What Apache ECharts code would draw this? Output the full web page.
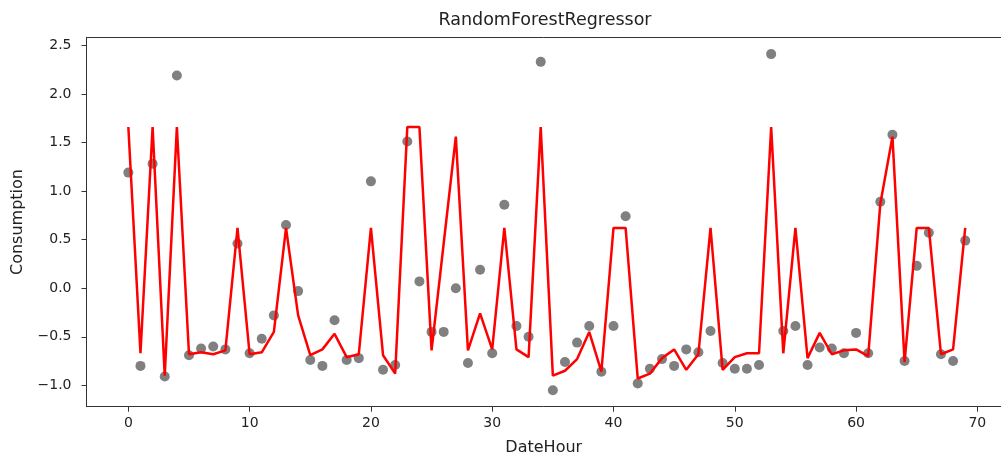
<!DOCTYPE html>
<html>
<head>
<meta charset="utf-8">
<script src="https://cdn.jsdelivr.net/npm/echarts@6/dist/echarts.min.js"></script>
<style>
html,body{margin:0;padding:0;background:#fff;}
#chart{width:1001px;height:461px;}
</style>
</head>
<body>
<div id="chart"></div>
<script>
const chartTitle = 'RandomForestRegressor';
const xName = 'DateHour';
const yName = 'Consumption';

const hours = [0,1,2,3,4,5,6,7,8,9,10,11,12,13,14,15,16,17,18,19,20,21,22,23,24,25,26,27,28,29,30,31,32,33,34,35,36,37,38,39,40,41,42,43,44,45,46,47,48,49,50,51,52,53,54,55,56,57,58,59,60,61,62,63,64,65,66,67,68,69];

const actual = [1.19,-0.80,1.28,-0.91,2.19,-0.69,-0.62,-0.60,-0.63,0.46,
  -0.67,-0.52,-0.28,0.65,-0.03,-0.74,-0.80,-0.33,-0.74,-0.72,
  1.10,-0.84,-0.79,1.51,0.07,-0.45,-0.45,0.00,-0.77,0.19,
  -0.67,0.86,-0.39,-0.50,2.33,-1.05,-0.76,-0.56,-0.39,-0.86,
  -0.39,0.74,-0.98,-0.83,-0.73,-0.80,-0.63,-0.66,-0.44,-0.77,
  -0.83,-0.83,-0.79,2.41,-0.44,-0.39,-0.79,-0.61,-0.62,-0.67,
  -0.46,-0.67,0.89,1.58,-0.75,0.23,0.57,-0.68,-0.75,0.49];

const predicted = [1.66,-0.67,1.66,-0.90,1.66,-0.68,-0.66,-0.68,-0.64,0.62,
  -0.68,-0.66,-0.45,0.62,-0.28,-0.69,-0.63,-0.47,-0.71,-0.68,
  0.62,-0.69,-0.88,1.66,1.66,-0.64,0.46,1.56,-0.64,-0.26,
  -0.63,0.62,-0.63,-0.71,1.66,-0.90,-0.85,-0.73,-0.45,-0.86,
  0.62,0.62,-0.93,-0.88,-0.72,-0.63,-0.84,-0.68,0.62,-0.84,
  -0.71,-0.67,-0.67,1.66,-0.67,0.62,-0.72,-0.46,-0.68,-0.64,
  -0.63,-0.70,0.87,1.56,-0.76,0.62,0.62,-0.68,-0.63,0.62];

const xTicks = [0,10,20,30,40,50,60,70];
const yTicks = [-1.0,-0.5,0.0,0.5,1.0,1.5,2.0,2.5];

const chart = echarts.init(document.getElementById('chart'), null, {renderer:'canvas'});
const font = 'DejaVu Sans';
const lineCol = '#333';
chart.setOption({
  animation: false,
  backgroundColor: '#fff',
  title: {
    text: chartTitle,
    left: 540,
    textAlign: 'center',
    top: 6,
    textStyle: {fontFamily: font, fontSize: 17.5, fontWeight: 'normal', color: '#222'}
  },
  grid: {
    left: 86.5, right: 0, top: 37.3, bottom: 54.3,
    show: false
  },
  xAxis: [{
    type: 'value', min: -3.45, max: 71.95,
    name: xName, nameLocation: 'middle', nameGap: 33,
    nameTextStyle: {fontFamily: font, fontSize: 16, color: '#222'},
    axisLine: {show: true, onZero: false, lineStyle: {color: lineCol, width: 1}},
    splitLine: {show: false},
    axisTick: {show: true, length: 5, inside: false, customValues: xTicks, lineStyle: {color: lineCol}},
    axisLabel: {customValues: xTicks, margin: 10, fontFamily: font, fontSize: 14, color: '#222',
      formatter: v => String(v)}
  }, {
    type: 'value', min: -3.45, max: 71.95, position: 'top',
    axisLine: {show: true, onZero: false, lineStyle: {color: lineCol, width: 1}},
    splitLine: {show: false}, axisTick: {show: false}, axisLabel: {show: false}
  }],
  yAxis: {
    type: 'value', min: -1.22, max: 2.583,
    name: yName, nameLocation: 'middle', nameGap: 61,
    nameTextStyle: {fontFamily: font, fontSize: 16, color: '#222'},
    axisLine: {show: true, onZero: false, lineStyle: {color: lineCol, width: 1}},
    splitLine: {show: false},
    axisTick: {show: true, length: 5, customValues: yTicks, lineStyle: {color: lineCol}},
    axisLabel: {customValues: yTicks, margin: 15, fontFamily: font, fontSize: 14, color: '#222',
      formatter: v => (v < 0 ? '\u2212' : '') + Math.abs(v).toFixed(1)}
  },
  series: [
    {
      type: 'scatter',
      data: hours.map((h, i) => [h, actual[i]]),
      symbol: 'circle', symbolSize: 10,
      itemStyle: {color: '#808080', opacity: 1},
      z: 2
    },
    {
      type: 'line',
      data: hours.map((h, i) => [h, predicted[i]]),
      showSymbol: false, symbol: 'none',
      lineStyle: {color: '#ff0000', width: 2.5},
      z: 3
    }
  ]
});
</script>
</body>
</html>
